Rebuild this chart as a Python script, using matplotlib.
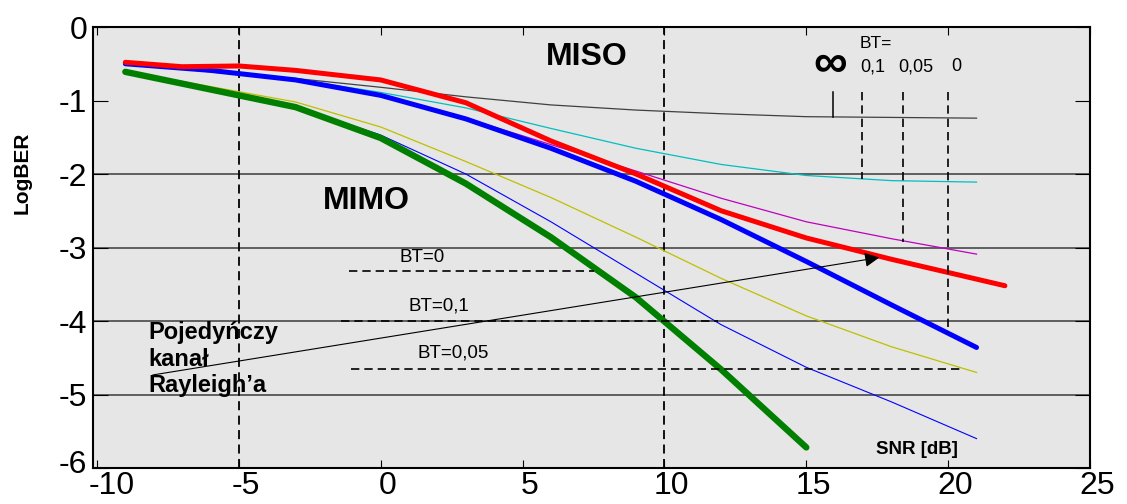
import matplotlib
matplotlib.use("Agg")
import matplotlib.pyplot as plt
import matplotlib.transforms as mtransforms

plt.rcParams['font.family'] = ['Liberation Sans', 'DejaVu Sans']

# SNR points [dB]
snr = [-9, -3, 0, 3, 6, 9, 12, 15, 18, 21]
snr_mimo_inf = [-9, -3, 0, 3, 6, 9, 12, 15]
snr_miso_inf = [-9, -6, -3, 0, 3, 6, 9, 12, 15, 18, 21]
snr_red = [-9, -7, -5, -3, 0, 3, 6, 9, 12, 15, 18, 22]

# log BER values
mimo_green = [-0.61, -1.09, -1.51, -2.13, -2.86, -3.68, -4.66, -5.72]
mimo_blue = [-0.61, -1.08, -1.47, -2.0, -2.65, -3.35, -4.05, -4.63, -5.1, -5.6]
mimo_yellow = [-0.6, -1.02, -1.36, -1.83, -2.32, -2.86, -3.42, -3.93, -4.35, -4.70]
miso_blue = [-0.5, -0.59, -0.72, -0.93, -1.25, -1.65, -2.1, -2.62, -3.19, -3.78, -4.36]
miso_magenta = [-0.5, -0.72, -0.93, -1.24, -1.6, -1.96, -2.33, -2.65, -2.88, -3.09]
miso_cyan = [-0.5, -0.71, -0.89, -1.1, -1.38, -1.65, -1.87, -2.02, -2.09, -2.11]
miso_gray = [-0.5, -0.7, -0.82, -0.95, -1.06, -1.13, -1.18, -1.22, -1.23, -1.24]
red_curve = [-0.48, -0.54, -0.53, -0.59, -0.72, -1.03, -1.55, -2.0, -2.5, -2.87, -3.16, -3.52]

xticks = [-10, -5, 0, 5, 10, 15, 20, 25]
yticks = [0, -1, -2, -3, -4, -5, -6]

fig = plt.figure(figsize=(11.27, 5.04), dpi=100)
ax = fig.add_axes([0.0825, 0.0714, 0.8847, 0.875])
ax.set_facecolor('#e6e6e6')
ax.set_xlim(-10.14, 25)
ax.set_ylim(-6, 0)

# horizontal grid lines
for yv in [-2, -3, -4, -5]:
    ax.axhline(yv, color='#3a3a3a', lw=1.1, zorder=1)

dash = (0, (5, 3))
ax.axvline(-5, color='black', lw=1.3, ls=dash, zorder=2)
ax.axvline(10, color='black', lw=1.3, ls=dash, zorder=2)

ax.plot(snr, miso_gray, color='#404040', lw=0.9, zorder=3)
ax.plot(snr, miso_cyan, color='#00bfbf', lw=0.9, zorder=3)
ax.plot(snr, miso_magenta, color='#bf00bf', lw=0.9, zorder=3)
ax.plot(snr, mimo_yellow, color='#bfbf00', lw=0.9, zorder=3)
ax.plot(snr, mimo_blue, color='#0000ff', lw=0.8, zorder=3)
ax.plot(snr_miso_inf, miso_blue, color='#0000ff', lw=3.6, solid_capstyle='round', zorder=4)
ax.plot(snr_mimo_inf, mimo_green, color='#007f00', lw=4.6, solid_capstyle='round', zorder=4)
ax.plot(snr_red, red_curve, color='#ff0000', lw=3.6, solid_capstyle='round', zorder=5)

# BT markers
ax.plot([-1.13, 7.53], [-3.32, -3.32], color='black', lw=1.2, ls=dash, zorder=6)
ax.plot([-1.4, 11.9], [-4.0, -4.0], color='black', lw=1.2, ls=dash, zorder=6)
ax.plot([-1.06, 20.5], [-4.65, -4.65], color='black', lw=1.2, ls=dash, zorder=6)
ax.plot([15.94, 15.94], [-0.88, -1.22], color='black', lw=1.1, zorder=6)
ax.plot([16.96, 16.96], [-0.88, -2.07], color='black', lw=1.2, ls=dash, zorder=6)
ax.plot([18.4, 18.4], [-0.88, -2.93], color='black', lw=1.2, ls=dash, zorder=6)
ax.plot([20.0, 20.0], [-0.88, -4.16], color='black', lw=1.2, ls=dash, zorder=6)

ax.text(1.45, -3.13, 'BT=0', fontsize=13.5, ha='center', va='center', zorder=7)
ax.text(2.05, -3.8, 'BT=0,1', fontsize=13.5, ha='center', va='center', zorder=7)
ax.text(2.55, -4.43, 'BT=0,05', fontsize=13.5, ha='center', va='center', zorder=7)

ax.text(17.46, -0.23, 'BT=', fontsize=12.5, ha='center', va='center')
ax.text(15.83, -0.52, '∞', fontsize=34, fontweight='bold', ha='center', va='center')
ax.text(17.35, -0.54, '0,1', fontsize=13, ha='center', va='center')
ax.text(18.87, -0.54, '0,05', fontsize=13, ha='center', va='center')
ax.text(20.28, -0.54, '0', fontsize=13, ha='center', va='center')

ax.text(7.28, -0.41, 'MISO', fontsize=23, fontweight='bold', ha='center', va='center')
ax.text(-0.5, -2.37, 'MIMO', fontsize=23, fontweight='bold', ha='center', va='center')
ax.text(18.9, -5.75, 'SNR [dB]', fontsize=13.5, fontweight='bold', ha='center', va='center')
ax.text(-8.2, -4.0, 'Pojedyńczy\nkanał\nRayleigh’a', fontsize=17, fontweight='bold',
        ha='left', va='top', linespacing=1.2, zorder=7)

ax.annotate('', xy=(17.67, -3.13), xytext=(-8.13, -4.74),
            arrowprops=dict(arrowstyle='-|>', color='black', lw=0.8, mutation_scale=22),
            zorder=7)

ax.set_xticks(xticks)
ax.set_yticks(yticks)
ax.set_xticklabels([str(v) for v in xticks])
ax.set_yticklabels([str(v) for v in yticks])
ax.tick_params(axis='both', direction='in', labelsize=23, top=True, right=True)
ax.tick_params(axis='x', length=6, pad=2)
ax.tick_params(axis='y', length=11, pad=4)
ax.set_ylabel('LogBER', fontsize=15, fontweight='bold', labelpad=2)
ax.yaxis.set_label_coords(-0.062, 0.67)
for s in ax.spines.values():
    s.set_linewidth(1.5)

# the x labels sit a little right of their ticks, as in the original
for i, lab in enumerate(ax.get_xticklabels()):
    dx = 10.5 if i == 0 else 5
    lab.set_transform(lab.get_transform() +
                      mtransforms.ScaledTranslation(dx / 72, 0, fig.dpi_scale_trans))
lowest = ax.get_yticklabels()[-1]
lowest.set_transform(lowest.get_transform() +
                     mtransforms.ScaledTranslation(0, 5 / 72, fig.dpi_scale_trans))

fig.savefig('out.png', dpi=100)
